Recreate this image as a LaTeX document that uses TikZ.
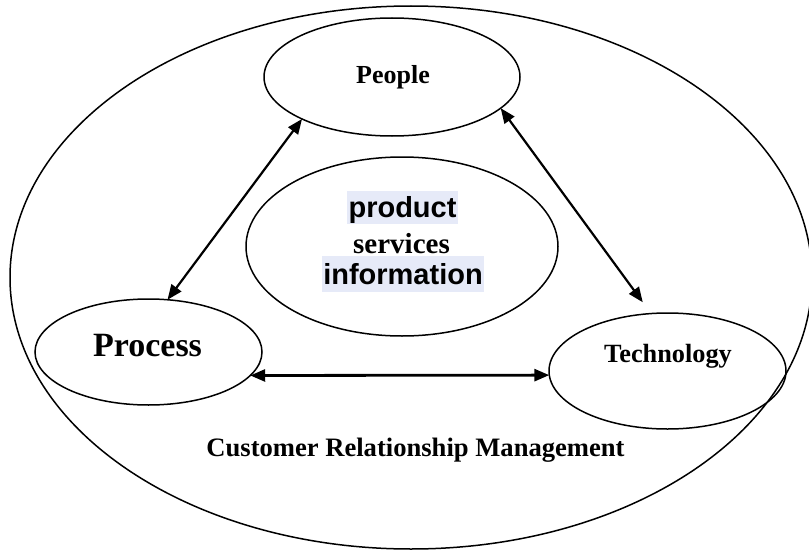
\documentclass[tikz,border=0pt]{standalone}
\usepackage{fontspec}
\setmainfont{Liberation Serif}
\newfontfamily\arialf{Liberation Sans}
\usetikzlibrary{shapes.geometric,arrows.meta}
\definecolor{hilite}{HTML}{E6EAF8}
\tikzset{
  oval/.style={draw, ellipse, line width=1.5pt, inner sep=0pt, outer sep=0pt},
  link/.style={line width=2.2pt, {Triangle[length=15pt,width=12pt]}-{Triangle[length=15pt,width=12pt]}},
  lbl/.style={inner sep=0pt, anchor=base, font=\bfseries}
}
\begin{document}
\begin{tikzpicture}[x=1pt,y=-1pt]
\useasboundingbox (0,0) rectangle (809,551);
\begin{scope}
\clip (0,0) rectangle (809,551);
\node[oval, minimum width=802pt, minimum height=543pt] (crm) at (411,277.5) {};
\end{scope}
\node[oval, minimum width=256pt, minimum height=118pt] (people) at (392,77) {};
\node[oval, minimum width=227pt, minimum height=106pt] (process) at (148.5,352) {};
\node[oval, minimum width=237pt, minimum height=116pt] (tech) at (667.5,371) {};
\node[oval, minimum width=312pt, minimum height=179pt] (core) at (402,246.5) {};
% highlights
\fill[hilite] (347,191) rectangle (458,224);
\fill[hilite] (322,256) rectangle (484,292);
% labels
\node[lbl, font=\fontsize{26}{26}\selectfont\bfseries] (tpeople) at (393,84) {People};
\node[lbl, font=\fontsize{34}{34}\selectfont\bfseries] (tprocess) at (147.5,356) {Process};
\node[lbl, font=\fontsize{26.3}{26}\selectfont\bfseries] (ttech) at (668,362) {Technology};
\node[lbl, font=\fontsize{26.6}{26}\selectfont\bfseries] (tcrm) at (415.5,456) {Customer Relationship Management};
\node[lbl, font=\fontsize{29}{29}\selectfont\arialf\bfseries] (tproduct) at (402.5,217) {product};
\node[lbl, font=\fontsize{29}{29}\selectfont\bfseries] (tservices) at (401.5,253) {services};
\node[lbl, font=\fontsize{29}{29}\selectfont\arialf\bfseries] (tinfo) at (403,284) {information};
% connectors
\draw[link] (people.205) -- (process.70);
\draw[link, shorten >=14pt] (people.-16) -- (tech.106);
\draw[link, line width=2.8pt] (process.-13) -- (tech.182);
\end{tikzpicture}
\end{document}
